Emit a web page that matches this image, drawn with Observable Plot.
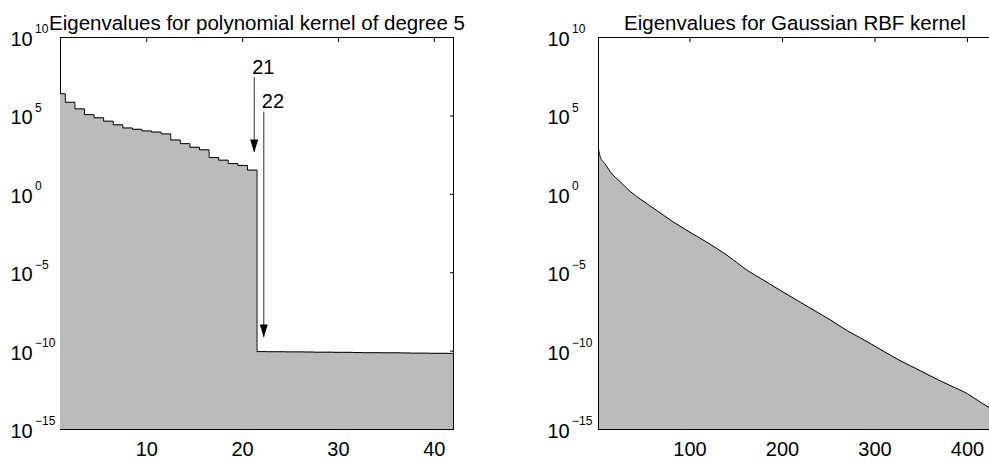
<!DOCTYPE html>
<html><head><meta charset="utf-8">
<script src="https://cdn.jsdelivr.net/npm/d3@7"></script>
<script src="https://cdn.jsdelivr.net/npm/@observablehq/plot@0.6"></script>
<style>
html,body{margin:0;padding:0;background:#fff;overflow:hidden;width:989px;height:463px;}
#wrap{position:relative;width:989px;height:463px;overflow:hidden;}
#left{position:absolute;left:0;top:0;width:470px;height:463px;}
#right{position:absolute;left:520px;top:0;width:520px;height:463px;}
svg{font-family:"Liberation Sans",Arial,Helvetica,sans-serif;overflow:visible;max-width:none !important;}
</style></head><body><div id="wrap"><div id="left"></div><div id="right"></div></div>
<script>
// ---- data ----
const polyIndex = [1,2,3,4,5,6,7,8,9,10,11,12,13,14,15,16,17,18,19,20,21,
  22,23,24,25,26,27,28,29,30,31,32,33,34,35,36,37,38,39,40,41,42];
const polyValues = [2.6e6,7.4e5,2.8e5,1.2e5,7.6e4,4.6e4,2.7e4,1.7e4,1.4e4,1.1e4,9.3e3,7.1e3,
  2.9e3,1.7e3,1.0e3,6.9e2,2.2e2,1.5e2,91,69,35,
  9.3e-11,9.1e-11,9.1e-11,8.9e-11,8.9e-11,8.7e-11,8.5e-11,8.5e-11,8.3e-11,8.3e-11,8.1e-11,
  7.9e-11,7.9e-11,7.8e-11,7.8e-11,7.6e-11,7.4e-11,7.4e-11,7.2e-11,7.2e-11,7.1e-11];
const rbfIndex = [1,3,8,14,25,36,46,64,82,100,118,140,162,180,198,216,234,252,270,284,
  309,327,345,363,381,400,414,424,426];
const rbfValues = [7.9e2,2.3e2,89,26,5.9,1.4,0.51,0.093,0.017,3.8e-3,8.9e-4,1.3e-4,1.4e-5,
  3.2e-6,7.2e-7,1.7e-7,4.0e-8,9.5e-9,2.0e-9,7.1e-10,1.0e-10,2.5e-11,7.4e-12,2.1e-12,
  6.5e-13,1.9e-13,5.5e-14,2.4e-14,2.0e-14];
const polyCount = 42;
const rbfCount = 426;
const yTicks = [1e10,1e5,1e0,1e-5,1e-10,1e-15];
const yExponents = ["10","5","0","\u22125","\u221210","\u221215"];
const polyXTicks = [10,20,30,40];
const rbfXTicks = [100,200,300,400];
const arrowIndex = [21,22];
const arrowLabels = ["21","22"];
const arrowTop = [2.8e7,1.7e5];
const arrowTip = [4.7e2,7.4e-10];
const titles = ["Eigenvalues for polynomial kernel of degree 5","Eigenvalues for Gaussian RBF kernel"];

// ---- build ----
const polyData = polyIndex.map((i,k)=>({i, v: polyValues[k]}));
const rbfData = rbfIndex.map((i,k)=>({i, v: rbfValues[k]}));
const arrows = arrowIndex.map((i,k)=>({i, top: arrowTop[k], tip: arrowTip[k], label: arrowLabels[k]}));
const FS = 20;
const TFS = 20.5;
const GRAY = "#bbbbbb";
const headSymbol = {draw(ctx){ ctx.moveTo(0,0); ctx.lineTo(-4,-13); ctx.lineTo(4,-13); ctx.closePath(); }};

function yLabelMarks(dx){
  return [
    Plot.text(yTicks, {y: d=>d, frameAnchor:"left", dx: dx, dy: 2, textAnchor:"start", text: ()=>"10", fontSize: FS, fill:"black"}),
    Plot.text(yTicks, {y: d=>d, frameAnchor:"left", dx: dx+24.5, dy: -8, textAnchor:"start", text: (d,i)=>yExponents[i], fontSize: 12, fill:"black"})
  ];
}

const common = {height: 463, marginTop: 37, marginBottom: 34,
  y: {type:"log", domain:[1e-15,1e10], axis:null},
  style:{background:"transparent", overflow:"visible", maxWidth:"none"}};

const left = Plot.plot({
  ...common,
  width: 470, marginLeft: 60, marginRight: 17,
  x: {domain:[1, polyCount], axis:null},
  marks: [
    Plot.frame({stroke:"black"}),
    Plot.axisX(polyXTicks, {anchor:"top", tickSize:-4, tickFormat: ()=>"", label:null}),
    Plot.axisY(yTicks, {anchor:"right", tickSize:-4, tickFormat: ()=>"", label:null}),
    Plot.areaY(polyData, {x:"i", y1: 1e-15, y2:"v", curve:"step", fill: GRAY}),
    Plot.lineY(polyData, {x:"i", y:"v", curve:"step", stroke:"black", strokeWidth:1}),
    Plot.ruleX(arrows, {x:"i", y1:"top", y2:"tip", dx: 2, stroke:"#333", strokeWidth:1}),
    Plot.dot(arrows, {x:"i", y:"tip", dx: 2, symbol: headSymbol, fill:"black", stroke:"none"}),
    Plot.text(arrows, {x:"i", y:"top", dx: 0, dy: -4, text:"label", textAnchor:"start", lineAnchor:"bottom", fontSize: FS, fill:"black"}),
    Plot.axisX(polyXTicks, {anchor:"bottom", tickSize:0, tickPadding:12, fontSize: FS, label:null, color:"black"}),
    ...yLabelMarks(-50),
    Plot.text([titles[0]], {frameAnchor:"top", dy:-22, text: d=>d, fontSize: TFS, fill:"black"})
  ]
});

const right = Plot.plot({
  ...common,
  width: 520, marginLeft: 78, marginRight: 49,
  x: {domain:[1, rbfCount], axis:null},
  marks: [
    Plot.areaY(rbfData, {x:"i", y1: 1e-15, y2:"v", curve:"monotone-x", fill: GRAY}),
    Plot.lineY(rbfData, {x:"i", y:"v", curve:"monotone-x", stroke:"black", strokeWidth:1}),
    Plot.frame({stroke:"black"}),
    Plot.axisX(rbfXTicks, {anchor:"top", tickSize:-4, tickFormat: ()=>"", label:null}),
    Plot.axisX(rbfXTicks, {anchor:"bottom", tickSize:0, tickPadding:12, fontSize: FS, label:null, color:"black"}),
    ...yLabelMarks(-51),
    Plot.text([titles[1]], {frameAnchor:"top", dy:-22, text: d=>d, fontSize: TFS, fill:"black"})
  ]
});

document.getElementById("left").append(left);
document.getElementById("right").append(right);
</script></body></html>
